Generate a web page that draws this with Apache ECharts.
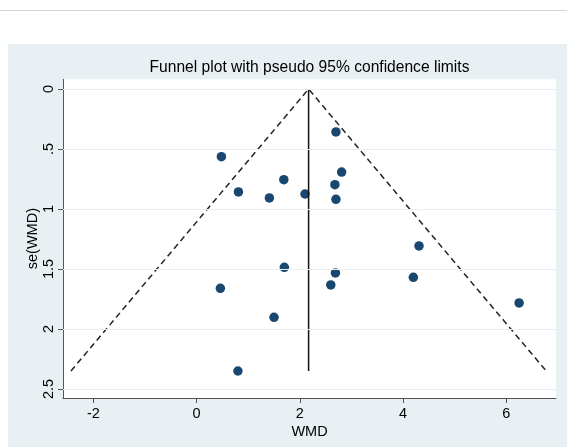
<!DOCTYPE html>
<html>
<head>
<meta charset="utf-8">
<script src="https://cdn.jsdelivr.net/npm/echarts@6/dist/echarts.min.js"></script>
<style>
html,body{margin:0;padding:0;background:#fff;}
#chart{width:567px;height:447px;}
</style>
</head>
<body>
<div id="chart"></div>
<script>
// Study estimates: WMD (x) and its standard error (y)
var wmd = [2.70, 0.48, 2.81, 1.69, 2.68, 0.81, 1.41, 2.10, 2.70, 1.70, 2.69, 2.60, 0.46, 1.50, 4.31, 4.20, 6.25, 0.80];
var seWmd = [0.358, 0.564, 0.692, 0.756, 0.797, 0.858, 0.908, 0.875, 0.919, 1.486, 1.533, 1.633, 1.661, 1.903, 1.308, 1.569, 1.783, 2.35];
// pooled (fixed-effect) estimate
var pooled = 2.17;
var xTicks = [-2, 0, 2, 4, 6];
var yTicks = [0, 0.5, 1, 1.5, 2, 2.5];
var titleText = 'Funnel plot with pseudo 95% confidence limits';

var points = wmd.map(function (v, i) { return [v, seWmd[i]]; });
var seMax = Math.max.apply(null, seWmd);
var funnel = [[pooled - 1.96 * seMax, seMax], [pooled, 0], [pooled + 1.96 * seMax, seMax]];
var vline = [[pooled, 0], [pooled, seMax]];

var chart = echarts.init(document.getElementById('chart'), null, {renderer: 'canvas'});
var FONT = 'Liberation Sans, Arial, sans-serif';
chart.setOption({
  backgroundColor: '#ffffff',
  animation: false,
  graphic: [
    {type: 'rect', z: -10, shape: {x: 0, y: 10, width: 567, height: 1}, style: {fill: '#d6d6d6'}},
    {type: 'rect', z: -10, shape: {x: 8, y: 44, width: 559, height: 403}, style: {fill: '#e9f0f3'}}
  ],
  title: {
    text: titleText,
    left: 309.5,
    textAlign: 'center',
    top: 60,
    padding: 0,
    textStyle: {fontFamily: FONT, fontSize: 15.6, fontWeight: 'normal', color: '#000'}
  },
  grid: {
    left: 63, right: 11, top: 79.3, bottom: 49,
    show: true, backgroundColor: '#ffffff', borderWidth: 0
  },
  xAxis: {
    type: 'value',
    min: -2.59, max: 6.965,
    name: 'WMD', nameLocation: 'middle', nameGap: 26, nameMoveOverlap: false,
    nameTextStyle: {fontFamily: FONT, fontSize: 14.5, color: '#000'},
    axisLine: {show: true, onZero: false, lineStyle: {color: '#555', width: 1}},
    axisTick: {show: true, length: 5, customValues: xTicks, lineStyle: {color: '#555'}},
    axisLabel: {customValues: xTicks, margin: 8, fontFamily: FONT, fontSize: 14.5, color: '#000'},
    splitLine: {show: false}
  },
  yAxis: {
    type: 'value',
    inverse: true,
    min: -0.081, max: 2.575,
    name: 'se(WMD)', nameLocation: 'middle', nameGap: 23, nameRotate: 90, nameMoveOverlap: false,
    nameTextStyle: {fontFamily: FONT, fontSize: 14.5, color: '#000'},
    axisLine: {show: true, onZero: false, lineStyle: {color: '#555', width: 1}},
    axisTick: {show: true, length: 5, customValues: yTicks, lineStyle: {color: '#555'}},
    axisLabel: {
      customValues: yTicks, rotate: 90, margin: 7,
      fontFamily: FONT, fontSize: 14.5, color: '#000',
      formatter: function (v) { return String(v).replace(/^0\./, '.'); }
    },
    splitLine: {show: false}
  },
  series: [
    {
      type: 'line', data: [], silent: true,
      markLine: {
        silent: true, symbol: 'none', label: {show: false},
        lineStyle: {color: '#e6eff1', width: 1, type: 'solid'},
        data: yTicks.map(function (t) { return {yAxis: t}; })
      }
    },
    {
      type: 'line', data: funnel, symbol: 'none', silent: true,
      lineStyle: {color: '#222', width: 1.5, type: [6, 4]}
    },
    {
      type: 'line', data: vline, symbol: 'none', silent: true,
      lineStyle: {color: '#111', width: 1.5}
    },
    {
      type: 'scatter', data: points, symbol: 'circle', symbolSize: 9.5,
      itemStyle: {color: '#1a476f', opacity: 1}
    }
  ]
});
</script>
</body>
</html>
